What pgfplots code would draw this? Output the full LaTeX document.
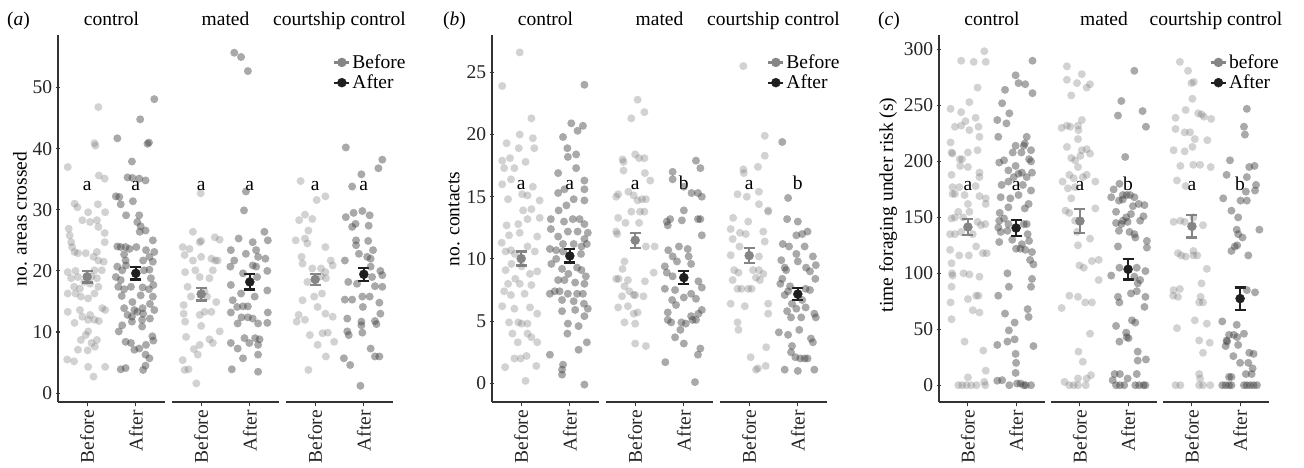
\documentclass[border=0pt]{standalone}
\usepackage{pgfplots}
\pgfplotsset{compat=1.18}
\usepackage{fontspec}
\setmainfont{Liberation Serif}
\newcommand{\fs}{\fontsize{19.5pt}{23pt}\selectfont}
\pgfplotsset{
  facet/.style={scale only axis, width=107pt, height=367pt, xmin=0.4, xmax=2.6,
    xtick={1,2}, xticklabels={Before,After}, axis x line=bottom,
    axis line style={line width=1.3pt, black!80},
    x axis line style={-}, y axis line style={-},
    tick style={line width=1.1pt, black!80}, major tick length=4.5pt, tick align=outside,
    xticklabel style={rotate=90, anchor=east, font=\fs, text=black!85},
    yticklabel style={font=\fs, text=black!85},
    clip=false},
  first/.style={axis y line=left, x axis line style={-}, y axis line style={-}},
  other/.style={axis y line=none, ytick=\empty, x axis line style={-}},
  ptB/.style={only marks, mark=*, mark size=4pt, mark options={draw opacity=0, line width=0pt, fill=black!55, fill opacity=0.32}},
  ptA/.style={only marks, mark=*, mark size=4pt, mark options={draw opacity=0, line width=0pt, fill=black!75, fill opacity=0.45}},
  mB/.style={only marks, mark=*, mark size=4.5pt, color=black!48,
    error bars/.cd, y dir=both, y explicit,
    error bar style={line width=2.2pt, black!48},
    error mark options={rotate=90, mark size=5.5pt, line width=2.2pt, black!48}},
  mA/.style={only marks, mark=*, mark size=4.5pt, color=black!88,
    error bars/.cd, y dir=both, y explicit,
    error bar style={line width=2.2pt, black!88},
    error mark options={rotate=90, mark size=5.5pt, line width=2.2pt, black!88}},
  legimg/.style={legend image code/.code={\draw[line width=2.2pt] (0pt,0pt) -- (15pt,0pt); \fill (7.5pt,0pt) circle (4.5pt);}},
  leg/.style={legend style={draw=none, fill=none, at={(axis description cs:0.44,0.952)}, anchor=north west, font=\fs, inner sep=0pt, row sep=1pt, legend cell align=left}},
}
\newcommand{\pts}[3]{\addplot[#1] table[row sep=\\, x expr=\thisrow{d}+#2, y=v] {#3};}
\begin{document}
\begin{tikzpicture}
\path[use as bounding box] (0,0) rectangle (1304pt,468pt);
\tikzset{lab/.style={font=\fs, inner sep=0pt}}
% ---------------- panel a ----------------
\node[lab, anchor=base west] at (7pt,442pt) {(\textit{a})};
\node[lab, anchor=base] at (111.5pt,442pt) {control};
\node[lab, anchor=base] at (225.5pt,442pt) {mated};
\node[lab, anchor=base] at (339.5pt,442pt) {courtship control};
\node[lab, rotate=90] at (20pt,249pt) {no. areas crossed};
\begin{axis}[facet, first, at={(58pt,66pt)}, anchor=south west, ymin=-1.45, ymax=58.6, ytick={0,10,20,30,40,50}, yticklabels={0,10,20,30,40,50}]
\pts{ptB}{1}{d v\\0.23 46.8\\0.17 40.5\\0.15 40.9\\-0.40 37.0\\0.24 35.6\\0.36 35.1\\-0.26 31.0\\-0.20 30.4\\0.02 29.6\\0.22 30.9\\0.37 29.6\\-0.10 28.3\\0.06 28.0\\0.20 28.3\\-0.38 26.9\\0.23 27.2\\0.36 26.2\\-0.36 25.8\\-0.33 24.7\\-0.31 23.9\\-0.26 23.1\\-0.19 22.9\\-0.03 22.9\\0.20 23.1\\0.36 24.7\\0.13 22.3\\0.23 21.7\\0.34 21.5\\-0.40 19.8\\-0.24 20.0\\0.15 20.1\\0.30 20.1\\-0.33 18.8\\-0.19 19.0\\0.09 19.1\\0.20 18.8\\-0.27 17.4\\-0.15 17.1\\-0.06 18.2\\0.06 17.9\\0.23 17.4\\-0.40 16.3\\-0.24 16.3\\-0.13 15.8\\0.02 15.5\\0.15 16.3\\-0.40 13.3\\-0.15 13.6\\0.06 12.8\\0.31 13.9\\0.37 13.6\\-0.26 11.5\\-0.10 12.5\\0.02 12.0\\0.15 12.0\\0.24 11.8\\0.02 10.1\\-0.03 9.5\\-0.13 8.7\\0.09 8.2\\0.20 8.7\\-0.19 7.1\\0.01 7.0\\0.16 7.6\\-0.41 5.5\\-0.27 5.2\\0.02 4.3\\0.37 4.3\\0.13 2.7\\}
\pts{ptA}{2}{d v\\0.38 48.1\\0.09 44.8\\-0.38 41.7\\0.27 41.0\\0.24 40.8\\-0.08 37.9\\-0.17 35.3\\-0.07 35.2\\0.07 35.1\\0.20 34.8\\-0.41 32.2\\-0.34 32.1\\-0.31 30.9\\-0.06 31.4\\-0.20 29.1\\0.07 29.1\\0.03 28.0\\0.20 26.6\\0.10 27.3\\0.08 26.4\\0.35 25.0\\-0.38 24.0\\-0.31 23.9\\-0.21 23.9\\-0.13 23.6\\0.01 23.9\\0.21 23.4\\0.38 23.1\\-0.24 22.7\\-0.21 21.7\\0.15 21.7\\0.28 22.3\\0.35 21.5\\-0.38 20.7\\-0.28 20.1\\-0.20 20.9\\0.17 20.1\\0.28 20.2\\-0.41 19.0\\-0.31 18.5\\0.31 18.8\\-0.36 17.4\\-0.24 17.0\\-0.10 17.4\\0.14 17.3\\0.27 17.0\\0.36 17.7\\-0.29 15.9\\0.10 16.0\\0.35 15.8\\-0.07 14.9\\0.29 14.6\\-0.24 13.9\\-0.03 13.6\\0.14 13.9\\0.15 13.0\\-0.17 12.8\\-0.08 12.5\\0.03 13.3\\0.38 13.6\\-0.08 11.7\\0.13 12.0\\0.29 12.2\\0.13 10.9\\-0.28 11.1\\-0.35 10.1\\0.34 9.3\\0.36 8.6\\-0.21 8.4\\-0.10 8.2\\0.21 7.9\\-0.03 7.1\\0.07 7.3\\0.20 6.3\\0.28 5.7\\-0.31 3.9\\-0.21 4.1\\0.15 3.8\\0.20 4.5\\}
\addplot[mB] coordinates {(1,19.05) +- (0,0.95)};
\addplot[mA] coordinates {(2,19.6) +- (0,1.0)};
\node[lab, anchor=base] at (axis cs:1,33.2) {a};
\node[lab, anchor=base] at (axis cs:2,33.2) {a};
\end{axis}
\begin{axis}[facet, other, at={(172pt,66pt)}, anchor=south west, ymin=-1.45, ymax=58.6]
\pts{ptB}{1}{d v\\-0.01 32.7\\-0.17 26.4\\-0.03 24.7\\0 24.9\\0.28 25.5\\0.38 25.1\\-0.38 23.9\\-0.24 23.6\\-0.34 22.6\\-0.17 21.7\\0 22.3\\0.21 22.0\\0.29 21.7\\0.34 21.7\\-0.33 19.8\\-0.12 20.1\\-0.03 19.0\\0.24 20.1\\0.17 18.8\\-0.28 17.4\\-0.21 15.8\\0.07 16.6\\0.12 15.8\\0.21 13.3\\0.31 14.9\\-0.36 14.4\\-0.36 13.0\\-0.33 11.7\\-0.03 12.8\\0.07 13.3\\0 11.0\\-0.31 9.2\\0.17 8.8\\0.24 8.2\\0.38 10.1\\-0.03 7.9\\-0.15 7.2\\-0.07 6.3\\-0.38 5.4\\-0.34 3.8\\-0.26 3.9\\-0.10 1.6\\}
\pts{ptA}{2}{d v\\-0.32 55.7\\-0.18 55.0\\-0.04 52.7\\-0.08 33.0\\-0.12 29.9\\0.30 26.4\\-0.23 25.3\\0.06 24.7\\0.37 25.0\\0.13 23.4\\-0.39 23.4\\-0.08 22.8\\0.17 22.3\\0.32 22.0\\-0.32 21.7\\0.06 20.9\\0.13 20.7\\-0.40 20.7\\0.36 20.0\\-0.14 19.6\\0.15 19.0\\-0.39 17.7\\-0.01 18.2\\0.36 16.8\\-0.18 16.3\\0.10 15.8\\-0.35 15.2\\-0.26 14.1\\-0.14 14.2\\-0.04 14.2\\-0.39 13.2\\0.37 13.2\\-0.25 11.4\\-0.17 12.4\\-0.04 12.4\\0.06 12.2\\0.17 11.4\\0.36 11.5\\-0.11 9.0\\0.11 9.0\\0.20 8.8\\-0.39 8.2\\-0.25 7.3\\-0.01 8.2\\0.17 7.9\\-0.14 5.7\\0.17 6.3\\-0.37 3.9\\0.17 3.5\\}
\addplot[mB] coordinates {(1,16.2) +- (0,1.05)};
\addplot[mA] coordinates {(2,18.2) +- (0,1.25)};
\node[lab, anchor=base] at (axis cs:1,33.2) {a};
\node[lab, anchor=base] at (axis cs:2,33.2) {a};
\end{axis}
\begin{axis}[facet, other, leg, at={(286pt,66pt)}, anchor=south west, ymin=-1.45, ymax=58.6]
\addlegendimage{legimg, black!48}\addlegendentry{Before}
\addlegendimage{legimg, black!88}\addlegendentry{After}
\pts{ptB}{1}{d v\\-0.30 34.7\\0.03 31.6\\0.21 32.2\\-0.33 28.3\\-0.21 29.2\\-0.06 28.5\\-0.14 26.6\\-0.40 25.0\\-0.21 25.3\\-0.16 24.5\\0.21 23.9\\-0.28 22.3\\-0.26 21.2\\0.32 21.7\\-0.06 20.4\\0.12 20.4\\0.21 19.8\\0.36 20.9\\-0.16 18.2\\0.12 19.1\\0.22 18.8\\-0.26 15.2\\-0.02 15.8\\0.05 14.1\\0.14 16.3\\-0.34 12.8\\-0.38 11.7\\-0.21 12.0\\0.21 13.0\\0.36 12.5\\-0.11 9.5\\0.15 9.8\\0.26 9.9\\0.39 8.4\\0.05 7.9\\0.22 6.0\\-0.14 3.8\\}
\pts{ptA}{2}{d v\\-0.37 40.2\\0.38 38.2\\0.30 36.8\\-0.05 35.8\\-0.24 33.8\\-0.21 29.5\\-0.03 29.8\\0.12 29.1\\-0.37 28.8\\-0.24 27.2\\-0.17 27.7\\0.10 27.4\\-0.16 25.0\\0.09 24.9\\-0.16 24.2\\0.19 23.4\\-0.10 22.8\\0.07 22.3\\0.14 22.0\\-0.39 21.7\\0.14 20.7\\0.34 20.0\\0.38 19.3\\0.17 19.0\\-0.32 18.2\\-0.14 17.9\\0.23 17.5\\0.38 17.4\\-0.39 15.3\\-0.24 15.3\\-0.03 15.8\\0.12 15.8\\0.32 14.8\\-0.02 14.1\\0.34 13.0\\-0.34 12.2\\-0.05 11.7\\-0.05 11.1\\0.23 11.8\\0.26 11.3\\-0.34 10.1\\-0.31 9.5\\-0.03 9.9\\0.14 7.3\\0.32 6.0\\0.23 6.0\\-0.41 5.7\\-0.28 4.6\\-0.07 1.2\\}
\addplot[mB] coordinates {(1,18.6) +- (0,0.9)};
\addplot[mA] coordinates {(2,19.45) +- (0,1.05)};
\node[lab, anchor=base] at (axis cs:1,33.2) {a};
\node[lab, anchor=base] at (axis cs:2,33.2) {a};
\end{axis}
% ---------------- panel b ----------------
\node[lab, anchor=base west] at (443pt,442pt) {(\textit{b})};
\node[lab, anchor=base] at (545.5pt,442pt) {control};
\node[lab, anchor=base] at (659.5pt,442pt) {mated};
\node[lab, anchor=base] at (773.5pt,442pt) {courtship control};
\node[lab, rotate=90] at (454pt,249pt) {no. contacts};
\begin{axis}[facet, first, at={(492pt,66pt)}, anchor=south west, ymin=-1.5, ymax=28, ytick={0,5,10,15,20,25}, yticklabels={0,5,10,15,20,25}]
\pts{ptB}{1}{d v\\-0.03 26.6\\-0.39 23.9\\0.21 21.3\\-0.03 20.0\\-0.30 19.3\\0.24 19.7\\-0.05 18.9\\0.27 18.9\\-0.39 17.9\\-0.35 17.3\\-0.23 18.1\\-0.14 17.3\\0.09 17.8\\-0.39 16.0\\-0.21 16.4\\0.24 15.8\\0.02 15.2\\0.13 15.1\\-0.27 14.8\\0.38 14.7\\0.21 14.0\\0.04 13.9\\0.13 13.2\\0.38 13.3\\-0.30 12.7\\-0.06 12.8\\-0.40 11.3\\-0.25 11.9\\-0.03 12.1\\0.33 11.8\\-0.32 10.6\\-0.21 10.7\\-0.13 10.4\\0.13 11.0\\0.28 10.6\\-0.32 9.1\\-0.20 9.6\\0.01 9.4\\0.18 8.8\\0.33 9.0\\-0.27 8.0\\-0.12 8.4\\-0.03 8.0\\0.21 7.9\\-0.35 7.4\\-0.21 7.1\\0.07 7.2\\-0.39 6.2\\-0.14 6.0\\0.18 6.1\\0.33 5.6\\-0.25 4.9\\-0.06 4.9\\0.01 4.8\\0.13 4.8\\-0.18 4.0\\-0.07 3.3\\0.13 4.0\\0.21 3.7\\0.33 3.3\\-0.14 2.0\\-0.01 2.0\\0.11 2.2\\-0.33 1.3\\0.31 1.4\\0.09 0.2\\}
\pts{ptA}{2}{d v\\0.30 24.0\\0.03 20.9\\0.27 20.7\\0.16 20.3\\-0.14 19.8\\-0.05 18.9\\0.13 18.4\\-0.04 18.2\\0.13 17.3\\-0.24 16.9\\0.30 16.3\\-0.24 15.3\\-0.11 15.6\\0.30 15.6\\0.08 14.8\\0.30 14.7\\-0.07 14.3\\-0.23 13.9\\-0.39 13.2\\-0.12 13.0\\0.06 13.2\\0.20 13.2\\0.30 12.8\\-0.39 12.4\\-0.04 12.2\\0.16 12.2\\0.37 12.1\\-0.24 11.8\\0.30 11.6\\-0.14 11.2\\0.08 11.2\\0.24 11.0\\0.35 11.2\\-0.41 10.8\\-0.28 10.7\\-0.14 10.6\\-0.28 10.0\\0.23 10.4\\-0.38 9.6\\-0.16 9.2\\-0.03 8.8\\0.15 9.3\\0.24 9.1\\0.33 8.6\\-0.24 8.3\\-0.11 8.3\\0.11 8.1\\0.30 8.0\\-0.41 7.2\\-0.31 7.4\\-0.21 7.4\\-0.04 7.2\\0.15 7.2\\0.27 7.2\\-0.16 6.7\\0.08 6.6\\0.29 6.4\\0.37 6.0\\0.11 5.9\\-0.16 5.8\\0.30 5.4\\-0.04 4.8\\-0.05 4.0\\0.18 4.6\\0.35 3.3\\0.18 2.7\\-0.41 2.3\\-0.14 1.5\\-0.16 1.1\\-0.16 0.7\\0.30 -0.1\\}
\addplot[mB] coordinates {(1,10.03) +- (0,0.56)};
\addplot[mA] coordinates {(2,10.24) +- (0,0.53)};
\node[lab, anchor=base] at (axis cs:1,15.57) {a};
\node[lab, anchor=base] at (axis cs:2,15.57) {a};
\end{axis}
\begin{axis}[facet, other, at={(606pt,66pt)}, anchor=south west, ymin=-1.5, ymax=28]
\pts{ptB}{1}{d v\\0.05 22.8\\-0.08 21.3\\0.19 21.8\\-0.26 18.0\\-0.24 17.8\\0 18.4\\0.08 18.1\\0.19 18.1\\-0.24 17.1\\0.20 16.9\\0.31 16.3\\-0.39 15.0\\-0.35 15.2\\-0.14 15.4\\-0.03 15.1\\0.05 14.7\\0.14 14.8\\0.22 14.8\\-0.08 13.8\\0.10 13.8\\0.19 13.8\\-0.35 13.3\\-0.20 12.9\\0.08 12.9\\-0.39 12.2\\-0.37 12.0\\0.22 11.0\\0.40 11.0\\-0.22 9.8\\-0.26 9.2\\0.38 8.9\\-0.39 8.4\\-0.34 8.4\\-0.15 8.3\\0.20 8.2\\-0.22 7.8\\-0.12 7.4\\-0.03 7.1\\0 7.1\\-0.27 7.0\\-0.35 6.1\\-0.15 6.2\\0.17 7.0\\-0.03 5.6\\0.05 5.7\\-0.22 4.9\\0 4.8\\0 3.2\\0.22 3.0\\}
\pts{ptA}{2}{d v\\0.25 17.9\\0.34 17.3\\-0.23 17.0\\-0.23 16.4\\0 15.8\\0.16 15.3\\0.29 15.3\\0.37 15.0\\0 13.9\\-0.28 13.2\\-0.35 13.0\\-0.33 12.7\\-0.04 13.1\\0.29 13.2\\0.34 13.2\\0.37 11.9\\-0.32 10.7\\-0.10 11.0\\0.08 10.8\\-0.23 10.2\\-0.14 9.8\\0.10 10.2\\-0.39 9.4\\-0.35 8.9\\0.15 9.6\\-0.23 8.6\\0.30 8.2\\0.37 7.7\\-0.39 7.6\\-0.18 7.5\\0.15 7.2\\0.25 6.8\\0 6.9\\-0.24 6.7\\-0.16 6.3\\0.37 5.9\\0.30 5.6\\-0.33 5.7\\0.15 5.4\\-0.33 5.1\\-0.26 4.9\\-0.05 4.9\\0.04 4.8\\0.18 5.1\\0.25 5.1\\-0.07 4.3\\-0.18 3.7\\0 3.2\\0.34 2.8\\0.29 2.3\\-0.38 1.7\\0.23 0.1\\}
\addplot[mB] coordinates {(1,11.5) +- (0,0.6)};
\addplot[mA] coordinates {(2,8.5) +- (0,0.5)};
\node[lab, anchor=base] at (axis cs:1,15.57) {a};
\node[lab, anchor=base] at (axis cs:2,15.57) {b};
\end{axis}
\begin{axis}[facet, other, leg, at={(720pt,66pt)}, anchor=south west, ymin=-1.5, ymax=28]
\addlegendimage{legimg, black!48}\addlegendentry{Before}
\addlegendimage{legimg, black!88}\addlegendentry{After}
\pts{ptB}{1}{d v\\-0.12 25.5\\0.32 19.9\\0.32 18.3\\0.18 17.4\\-0.11 16.9\\-0.12 17.2\\-0.24 15.2\\-0.05 15.0\\0.20 15.4\\0.20 14.4\\0.39 13.9\\0.39 13.8\\-0.33 13.3\\-0.02 13.0\\-0.38 12.4\\-0.19 12.1\\-0.07 12.0\\0.29 12.2\\-0.34 11.6\\0.32 11.4\\-0.20 11.0\\-0.38 10.3\\0.20 10.2\\-0.31 9.1\\-0.22 8.9\\0.08 9.1\\0.20 9.1\\0.29 8.8\\-0.34 8.3\\0.14 8.5\\0.22 8.3\\-0.24 7.6\\-0.16 7.6\\-0.02 7.6\\0.05 7.6\\-0.38 6.4\\-0.09 6.2\\0.39 6.4\\-0.24 4.9\\-0.22 4.3\\0.39 5.6\\0.35 2.9\\0.03 2.1\\0.14 1.1\\0.18 1.2\\0.34 1.4\\}
\pts{ptA}{2}{d v\\-0.32 19.4\\-0.20 14.9\\-0.22 13.2\\0 13.0\\-0.03 11.9\\0.09 12.0\\0.20 12.2\\-0.31 11.2\\-0.18 11.0\\0.14 11.0\\-0.03 10.4\\0.31 10.2\\-0.34 9.9\\-0.27 9.3\\-0.24 9.1\\0 9.8\\0.17 9.3\\0.37 9.5\\0.25 9.0\\-0.32 8.4\\-0.36 8.0\\0.36 8.4\\-0.16 7.8\\-0.20 7.4\\0.16 7.6\\0.25 7.5\\-0.27 7.1\\0.09 6.7\\-0.12 6.4\\-0.03 6.0\\0.16 6.1\\-0.22 5.8\\-0.14 5.3\\0.07 5.3\\0.34 5.6\\0.37 5.3\\-0.39 4.1\\-0.20 3.9\\0.03 4.3\\0.27 3.6\\0.31 3.3\\-0.12 3.0\\-0.14 2.5\\-0.05 2.1\\0.05 2.0\\0.14 2.0\\0.20 2.0\\-0.27 1.1\\0 1.0\\0.34 1.1\\}
\addplot[mB] coordinates {(1,10.27) +- (0,0.6)};
\addplot[mA] coordinates {(2,7.17) +- (0,0.5)};
\node[lab, anchor=base] at (axis cs:1,15.57) {a};
\node[lab, anchor=base] at (axis cs:2,15.57) {b};
\end{axis}
% ---------------- panel c ----------------
\node[lab, anchor=base west] at (878pt,442pt) {(\textit{c})};
\node[lab, anchor=base] at (992pt,442pt) {control};
\node[lab, anchor=base] at (1104pt,442pt) {mated};
\node[lab, anchor=base] at (1216pt,442pt) {courtship control};
\node[lab, rotate=90] at (888pt,263pt) {time foraging under risk (s)};
\begin{axis}[facet, first, width=106pt, at={(939pt,66pt)}, anchor=south west, ymin=-15, ymax=313, ytick={0,50,100,150,200,250,300}, yticklabels={0,50,100,150,200,250,300}]
\pts{ptB}{1}{d v\\0.34 298.5\\-0.14 290\\0.12 289\\0.37 289\\0.20 266\\-0.36 247\\0.03 253\\-0.14 244\\-0.27 231\\-0.14 232\\-0.05 236\\0.16 239\\0.22 231\\0.03 228\\0.24 222\\-0.36 217\\-0.34 208\\-0.32 207\\0 208\\-0.17 202\\-0.12 202\\0.20 210\\-0.16 196\\0 195\\-0.34 188\\0.24 190\\0.24 186\\-0.32 177\\-0.18 177\\0.16 178\\-0.27 171\\-0.32 171\\-0.07 170\\0.24 169\\0.37 167\\0.37 162\\0 162\\-0.20 155\\0.03 155\\-0.27 150\\-0.34 149\\-0.10 150\\0.20 146\\0.36 144\\-0.37 135\\-0.27 135\\-0.14 137\\0.10 135\\0.27 143\\0.17 124\\0.31 118\\0.39 118\\-0.37 121\\-0.18 116\\0.02 116\\-0.34 109\\-0.32 98\\-0.33 100\\-0.09 100\\0.03 99\\0.24 97\\-0.34 88\\0 77\\0.17 80\\0.22 80\\-0.36 74\\0.10 67\\0.24 65\\-0.34 59\\-0.07 39\\0.32 31\\0.37 13\\0 7\\-0.20 0\\-0.12 0\\-0.03 0\\0.07 0\\0.18 0\\0.34 3\\0.36 0\\}
\pts{ptA}{2}{d v\\0.34 290\\-0.01 277\\0.05 270\\0.19 269\\0.34 261\\-0.23 264\\-0.29 252\\-0.39 237\\-0.14 243\\-0.20 234\\-0.37 222\\0.22 222\\-0.01 214\\0.16 214\\0.18 216\\-0.07 208\\0.11 208\\0.31 210\\0.27 202\\-0.35 199\\-0.25 201\\-0.16 192\\-0.01 196\\0.31 200\\0.05 189\\0.12 190\\0.33 190\\-0.05 186\\0.22 186\\-0.30 179\\-0.16 182\\0.31 174\\0.14 179\\0.05 170\\-0.32 168\\-0.12 167\\0.26 162\\0.18 158\\-0.16 159\\-0.34 154\\-0.35 147\\-0.25 149\\-0.16 144\\-0.37 141\\-0.32 137\\-0.18 138\\0.16 144\\0.22 144\\0.24 135\\0.27 129\\0.12 126\\0 122\\0.09 122\\0.19 121\\0.33 119\\-0.35 128\\-0.08 130\\-0.18 100\\0.29 112\\0.36 108\\0.33 95\\0.31 88\\-0.15 88\\-0.37 80\\0.24 68\\0.26 61\\-0.23 64\\-0.03 56\\-0.15 49\\-0.39 36\\-0.18 39\\-0.03 41\\0.36 35\\-0.01 28\\0 20\\-0.01 11\\-0.39 4\\-0.29 4.5\\-0.14 0\\0.02 1.5\\0.09 1.5\\0.16 0\\0.20 0\\0.31 0\\}
\addplot[mB] coordinates {(1,141.4) +- (0,7)};
\addplot[mA] coordinates {(2,140.5) +- (0,7)};
\node[lab, anchor=base] at (axis cs:1,174.1) {a};
\node[lab, anchor=base] at (axis cs:2,174.1) {a};
\end{axis}
\begin{axis}[facet, other, width=106pt, at={(1051pt,66pt)}, anchor=south west, ymin=-15, ymax=313]
\pts{ptB}{1}{d v\\-0.27 285\\0.04 278\\-0.27 273\\-0.06 270\\0.14 266\\0.21 269\\-0.18 259\\0.04 237\\-0.04 232\\-0.03 228\\-0.38 230\\-0.27 232\\-0.20 231\\-0.04 220\\-0.27 213\\0.04 210\\0.14 211\\0.21 207\\-0.18 203\\-0.10 201\\0.01 205\\-0.04 195\\-0.22 188\\-0.13 185\\0.06 186\\0.14 188\\-0.36 182\\-0.25 176\\-0.10 177\\0.32 182\\-0.18 167\\-0.30 156\\-0.22 154\\-0.10 147\\0.32 158\\-0.06 137\\0.21 131\\-0.04 125\\0.39 112\\0.25 111\\-0.01 107\\0.08 105\\0.39 94\\-0.22 80\\-0.04 79\\-0.38 69\\0.11 74\\0.25 74\\0.21 46\\-0.03 30\\0.06 21\\0.23 9\\0.14 6\\-0.04 6\\-0.32 3\\-0.22 0\\-0.13 0\\-0.04 0\\0.12 0\\}
\pts{ptA}{2}{d v\\0.13 281\\-0.14 254\\-0.21 241\\0.30 245\\0.37 231\\-0.06 204\\-0.18 180\\-0.30 175\\-0.35 168\\-0.11 170\\-0.03 170\\0.04 170\\-0.19 165\\-0.11 166\\0.13 168\\0.22 162\\0.34 161\\0.10 160\\-0.25 155\\0.06 153\\0.32 151\\-0.04 150\\-0.11 147\\0.25 147\\-0.25 145\\-0.14 144\\-0.01 146\\-0.19 138\\0.03 137\\0.13 135\\0.15 132\\0.39 129\\0.39 123\\-0.21 124\\-0.35 98\\-0.18 105\\0.18 105\\0.36 102\\0.13 97\\0.20 91\\0.25 94\\0.06 82\\0.18 84\\-0.21 79\\-0.18 74\\0.36 79\\0.34 70\\0.08 58\\0.15 56\\-0.25 53\\-0.04 47\\-0.03 43\\-0.18 39\\0.01 42\\0.20 30\\0.37 23\\0.20 22\\-0.28 10\\-0.17 10\\-0.01 6\\0.18 10\\-0.25 0\\-0.17 0\\-0.08 0\\0.15 0\\0.23 0\\0.32 0\\0.36 0\\-0.32 4.5\\}
\addplot[mB] coordinates {(1,146.7) +- (0,10.7)};
\addplot[mA] coordinates {(2,103.6) +- (0,9.2)};
\node[lab, anchor=base] at (axis cs:1,174.1) {a};
\node[lab, anchor=base] at (axis cs:2,174.1) {b};
\end{axis}
\begin{axis}[facet, other, leg, width=106pt, at={(1163pt,66pt)}, anchor=south west, ymin=-15, ymax=313]
\addlegendimage{legimg, black!48}\addlegendentry{before}
\addlegendimage{legimg, black!88}\addlegendentry{After}
\pts{ptB}{1}{d v\\-0.25 289\\-0.08 281\\-0.01 270\\0.04 271\\0.01 256\\-0.13 246\\0.13 243\\0.20 242\\0.25 240\\-0.34 239\\0.40 238\\-0.34 229\\-0.15 226\\-0.04 226\\0.06 220\\0.32 219\\0.01 213\\-0.38 210\\-0.15 209\\-0.24 196\\0.03 197\\0.17 197\\0.39 195\\-0.31 183\\-0.13 178\\-0.38 146\\-0.24 147\\-0.15 146\\0.03 150\\0.23 143\\-0.29 118\\-0.22 116\\-0.13 115\\0.03 116\\0.11 116\\0.03 120\\0.31 104\\0.20 91\\-0.38 85\\-0.25 86\\-0.39 80\\-0.29 79\\0.18 79\\0.15 74\\0.23 74\\0.06 58\\0.31 55\\-0.31 51\\0.15 40\\0.37 38\\0.23 29\\0.15 10\\0.17 6\\-0.34 0\\-0.24 0\\0.15 0\\0.23 0\\0.38 0\\}
\pts{ptA}{2}{d v\\0.14 247\\0.08 231\\0.10 224\\-0.21 201\\0.19 195\\0.30 196\\-0.28 188\\0.14 186\\0.33 179\\0.31 174\\0.12 173\\-0.35 167\\0.01 165\\0.14 165\\-0.18 156\\-0.04 150\\0.40 139\\-0.07 139\\-0.04 135\\0.05 132\\-0.06 125\\-0.11 124\\-0.18 120\\0.17 116\\0.14 85\\0.31 83\\-0.37 57\\-0.07 54\\-0.23 45\\-0.13 45\\-0.06 43\\0.08 46\\-0.28 40\\-0.27 39\\-0.30 35\\-0.04 36\\-0.14 26\\0.19 29\\0.28 28\\0.17 20\\0 20\\0.26 15\\0.12 10\\0.24 10\\-0.23 7.4\\-0.18 7.4\\-0.37 0\\-0.30 0\\-0.23 0\\-0.18 0\\0.08 0\\0.14 0\\0.21 0\\0.28 0\\0.35 0\\}
\addplot[mB] coordinates {(1,142) +- (0,10)};
\addplot[mA] coordinates {(2,77.4) +- (0,10)};
\node[lab, anchor=base] at (axis cs:1,174.1) {a};
\node[lab, anchor=base] at (axis cs:2,174.1) {b};
\end{axis}
\end{tikzpicture}
\end{document}
